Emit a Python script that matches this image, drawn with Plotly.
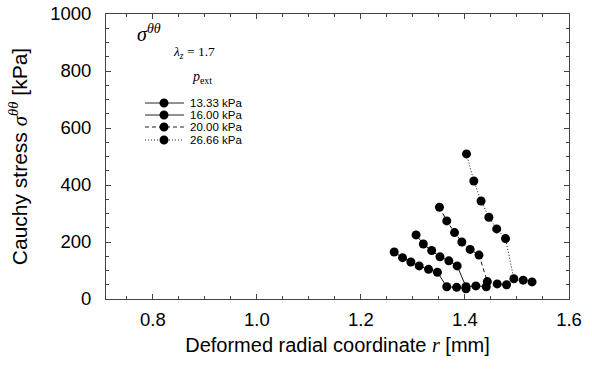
import plotly.graph_objects as go

# ---- data ----
r_1333 = [1.264, 1.280, 1.296, 1.312, 1.330, 1.347, 1.365, 1.384, 1.402]
s_1333 = [165, 145, 130, 116, 104, 94, 43, 41, 36]
r_1600 = [1.306, 1.320, 1.336, 1.352, 1.369, 1.385, 1.402, 1.421, 1.441]
s_1600 = [225, 193, 170, 148, 134, 116, 43, 46, 43]
r_2000 = [1.351, 1.365, 1.380, 1.394, 1.410, 1.427, 1.443, 1.462, 1.480]
s_2000 = [322, 274, 233, 200, 174, 154, 61, 53, 50]
r_2666 = [1.403, 1.417, 1.431, 1.446, 1.461, 1.478, 1.494, 1.512, 1.529]
s_2666 = [509, 414, 344, 287, 246, 212, 71, 66, 60]

series_names = ["13.33 kPa", "16.00 kPa", "20.00 kPa", "26.66 kPa"]
series_dash = ["solid", "solid", "4px,3px", "1px,2px"]
x_ticks = [0.8, 1.0, 1.2, 1.4, 1.6]
y_ticks = [0, 200, 400, 600, 800, 1000]

SANS = "Liberation Sans, Arial, sans-serif"
SERIF = "Liberation Serif, Times New Roman, serif"

fig = go.Figure()
for r, s, name, dash in zip([r_1333, r_1600, r_2000, r_2666],
                            [s_1333, s_1600, s_2000, s_2666],
                            series_names, series_dash):
    fig.add_trace(go.Scatter(
        x=r, y=s, name=name, mode="lines+markers",
        line=dict(color="#111111", width=1, dash=dash),
        marker=dict(color="black", size=9),
        showlegend=False,
    ))

# ---- manual legend (compact, like the reference) ----
W, H, L, T = 463.0, 285.0, 106.0, 14.0
def px2paper_x(px):
    return (px - L) / W
def px2paper_y(py):
    return (T + H - py) / H

rows = [103, 115, 127, 140]
for name, dash, ry in zip(series_names, series_dash, rows):
    yy = px2paper_y(ry)
    fig.add_shape(type="line", xref="paper", yref="paper",
                  x0=px2paper_x(145), x1=px2paper_x(184), y0=yy, y1=yy,
                  line=dict(color="#222222", width=1, dash=dash))
    fig.add_shape(type="circle", xref="paper", yref="paper",
                  xsizemode="pixel", ysizemode="pixel",
                  xanchor=px2paper_x(164), yanchor=yy,
                  x0=-4.5, x1=4.5, y0=-4.5, y1=4.5,
                  fillcolor="black", line=dict(color="black", width=0))
    fig.add_annotation(xref="paper", yref="paper", x=px2paper_x(189), y=yy,
                       xanchor="left", yanchor="middle", showarrow=False,
                       borderpad=0,
                       text=name, font=dict(family=SANS, size=11.5, color="black"))

fig.add_annotation(xref="paper", yref="paper", x=px2paper_x(135), y=px2paper_y(33),
                   xanchor="left", yanchor="middle", showarrow=False,
                   text="<i>σ</i><sup><i>θθ</i></sup>",
                   font=dict(family=SERIF, size=20, color="black"))
fig.add_annotation(xref="paper", yref="paper", x=px2paper_x(171), y=px2paper_y(53),
                   xanchor="left", yanchor="middle", showarrow=False,
                   text="<i>λ</i><sub><i>z</i></sub> = 1.7",
                   font=dict(family=SERIF, size=13.5, color="black"))
fig.add_annotation(xref="paper", yref="paper", x=px2paper_x(190), y=px2paper_y(77),
                   xanchor="left", yanchor="middle", showarrow=False,
                   text="<i>p</i><sub>ext</sub>",
                   font=dict(family=SERIF, size=14, color="black"))

axis_common = dict(
    showline=True, linecolor="#444444", linewidth=1, mirror="allticks",
    ticks="inside", ticklen=5, tickcolor="#444444", tickwidth=1,
    showgrid=False, zeroline=False,
    tickfont=dict(family=SANS, size=18.5, color="black"),
)

fig.update_xaxes(
    range=[0.71, 1.6], tickvals=x_ticks, ticktext=[f"{v:.1f}" for v in x_ticks],
    minor=dict(dtick=0.05, tick0=0.0, ticks="inside", ticklen=3, tickcolor="#444444", showgrid=False),
    ticklabelstandoff=4,
    title=dict(text='Deformed radial coordinate <span style="font-family:Liberation Serif"><i>r</i></span> [mm]',
               font=dict(family=SANS, size=20, color="black"), standoff=8),
    **axis_common,
)
fig.update_yaxes(
    range=[0, 1000], tickvals=y_ticks, ticktext=[str(v) for v in y_ticks],
    minor=dict(dtick=50, tick0=0, ticks="inside", ticklen=3, tickcolor="#444444", showgrid=False),
    ticklabelstandoff=10,
    title=dict(text='Cauchy stress <span style="font-family:Liberation Serif"><i>σ</i><sup><i>θθ</i></sup></span> [kPa]',
               font=dict(family=SANS, size=21, color="black"), standoff=16),
    **axis_common,
)

fig.update_layout(
    width=592, height=370,
    margin=dict(l=106, r=23, t=14, b=71, autoexpand=False),
    plot_bgcolor="white", paper_bgcolor="white",
    showlegend=False,
)

fig.write_html("out.html", config={"displayModeBar": False},
               post_script="document.body.style.margin='0';")
